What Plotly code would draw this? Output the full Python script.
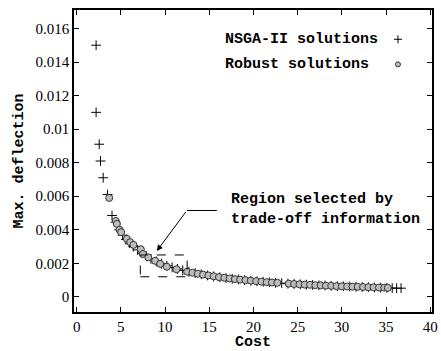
import plotly.graph_objects as go

# NSGA-II solutions (cost, maximum deflection)
nsga_cost = [2.2, 2.2, 2.55, 2.7, 3.0, 3.5, 4.0, 4.4, 4.8, 5.2, 5.6, 6.0, 6.4, 6.9,
             7.4, 7.9, 8.4, 9.0, 9.6, 10.2, 10.8, 11.4, 12.0, 12.7, 13.4, 14.1,
             14.8, 15.5, 16.2, 16.9, 17.6, 18.3, 19.0, 19.7, 20.4, 21.1, 21.8,
             22.5, 23.2, 23.9, 24.6, 25.3, 26.0, 26.7, 27.4, 28.1, 28.8, 29.5,
             30.2, 30.9, 31.6, 32.3, 33.0, 33.7, 34.4, 35.1, 35.7, 36.2, 36.7]
nsga_defl = [0.0150, 0.0110, 0.0091, 0.0081, 0.0071, 0.0061, 0.00485, 0.00445,
             0.00400, 0.00368, 0.00342, 0.00320, 0.00300, 0.00280, 0.00260,
             0.00242, 0.00227, 0.00212, 0.00198, 0.00186, 0.00176, 0.00167,
             0.00158, 0.00150, 0.00142, 0.00135, 0.00128, 0.00122, 0.00117,
             0.00112, 0.00108, 0.00104, 0.00100, 0.00096, 0.00093, 0.00090,
             0.00087, 0.00084, 0.00082, 0.00079, 0.00077, 0.00075, 0.00073,
             0.00071, 0.00069, 0.00068, 0.00066, 0.00064, 0.00063, 0.00062,
             0.00060, 0.00059, 0.00058, 0.00056, 0.00055, 0.00054, 0.00053,
             0.00052, 0.00052]

# Robust solutions
robust_cost = [3.68, 4.43, 4.55, 4.85, 5.03, 5.68, 6.05, 6.43, 7.26, 7.5, 8.1,
               8.88, 9.45, 10.2, 11.3, 12.5, 13.1, 13.7, 14.3, 14.9, 15.5, 16.1,
               16.7, 17.3, 17.9, 18.5, 19.1, 19.7, 20.3, 20.9, 21.5, 22.1, 22.7,
               24.0, 24.6, 25.2, 25.8, 26.4, 27.0, 27.6, 28.2, 28.8, 29.4, 30.0,
               30.6, 31.2, 31.8, 32.4, 33.0, 33.6, 34.2, 34.8, 35.2]
robust_defl = [0.00590, 0.00453, 0.00435, 0.00400, 0.00386, 0.00346, 0.00326,
               0.00310, 0.00284, 0.00256, 0.00236, 0.00215, 0.00197, 0.00180,
               0.00165, 0.00150, 0.00144, 0.00138, 0.00133, 0.00128, 0.00123,
               0.00118, 0.00114, 0.00110, 0.00106, 0.00103, 0.00100, 0.00097,
               0.00094, 0.00091, 0.00088, 0.00086, 0.00084, 0.00079, 0.00077,
               0.00075, 0.00073, 0.00072, 0.00070, 0.00069, 0.00067, 0.00066,
               0.00064, 0.00063, 0.00062, 0.00061, 0.00060, 0.00059, 0.00058,
               0.00057, 0.00056, 0.00055, 0.00054]

x_ticks = [0, 5, 10, 15, 20, 25, 30, 35, 40]
y_ticks = [0, 0.002, 0.004, 0.006, 0.008, 0.01, 0.012, 0.014, 0.016]
y_tick_text = ["0", "0.002", "0.004", "0.006", "0.008", "0.01", "0.012", "0.014", "0.016"]

# selected region box and arrow geometry (data units)
region_box = dict(x0=7.2, x1=12.5, y0=0.0012, y1=0.0025)
arrow_elbow = (12.47, 0.00515)
arrow_tail = (15.86, 0.00515)
arrow_tip = (9.07, 0.00274)

mono = "Liberation Mono"
serif = "Liberation Serif"

fig = go.Figure()
fig.add_trace(go.Scatter(
    x=nsga_cost, y=nsga_defl, mode="markers", name="NSGA-II solutions",
    marker=dict(symbol="cross-thin", size=7, line=dict(color="black", width=1)),
))
fig.add_trace(go.Scatter(
    x=robust_cost, y=robust_defl, mode="markers", name="Robust solutions",
    marker=dict(symbol="circle", size=7, color="#bdbdbd",
                line=dict(color="#333333", width=1)),
))

axis_common = dict(
    showline=True, linecolor="black", linewidth=1.5, mirror="ticks",
    ticks="inside", ticklen=5, tickwidth=1, tickcolor="black",
    showgrid=False, zeroline=False, automargin=False,
    tickfont=dict(family=serif, size=15, color="black"),
)

fig.update_xaxes(range=[-0.3, 40.2], tickvals=x_ticks,
                 title=dict(text="<b>Cost</b>", font=dict(family=mono, size=15, color="black"), standoff=5),
                 **axis_common)
fig.update_yaxes(range=[-0.0009, 0.0171], tickvals=y_ticks, ticktext=y_tick_text,
                 title=dict(text="<b>Max. deflection</b>", font=dict(family=mono, size=15, color="black"), standoff=8),
                 **axis_common)

# dashed region box
fig.add_shape(type="rect", xref="x", yref="y", line=dict(color="black", width=1, dash="dash"),
              **region_box)
# arrow leader line
fig.add_shape(type="line", xref="x", yref="y",
              x0=arrow_tail[0], y0=arrow_tail[1], x1=arrow_elbow[0], y1=arrow_elbow[1],
              line=dict(color="black", width=1))
fig.add_annotation(x=arrow_tip[0], y=arrow_tip[1], ax=arrow_elbow[0], ay=arrow_elbow[1],
                   xref="x", yref="y", axref="x", ayref="y", text="",
                   showarrow=True, arrowhead=2, arrowsize=1.2, arrowwidth=1, arrowcolor="black")

# callout text
fig.add_annotation(x=17.2, y=0.00522, xref="x", yref="y",
                   text="<b>Region selected by<br>trade-off information</b>",
                   showarrow=False, xanchor="left", yanchor="middle", align="left",
                   font=dict(family=mono, size=15, color="black"))

# key
key_rows = [("NSGA-II solutions", 0.903), ("Robust solutions", 0.820)]
for txt, yp in key_rows:
    fig.add_annotation(x=0.416, y=yp, xref="paper", yref="paper", text="<b>" + txt + "</b>",
                       showarrow=False, xanchor="left", yanchor="middle",
                       font=dict(family=mono, size=15, color="black"))
fig.add_shape(type="line", xref="paper", yref="paper", xsizemode="pixel", ysizemode="pixel",
              xanchor=0.905, yanchor=0.903, x0=-4, x1=4, y0=0, y1=0,
              line=dict(color="black", width=1))
fig.add_shape(type="line", xref="paper", yref="paper", xsizemode="pixel", ysizemode="pixel",
              xanchor=0.905, yanchor=0.903, x0=0, x1=0, y0=-4, y1=4,
              line=dict(color="black", width=1))
fig.add_shape(type="circle", xref="paper", yref="paper", xsizemode="pixel", ysizemode="pixel",
              xanchor=0.905, yanchor=0.820, x0=-2.5, x1=2.5, y0=-2.5, y1=2.5,
              fillcolor="#bdbdbd", line=dict(color="#333333", width=1))

fig.update_layout(
    width=441, height=351,
    margin=dict(l=74, r=9, t=10, b=39),
    paper_bgcolor="white", plot_bgcolor="white",
    showlegend=False,
)

fig.write_html("out.html")
